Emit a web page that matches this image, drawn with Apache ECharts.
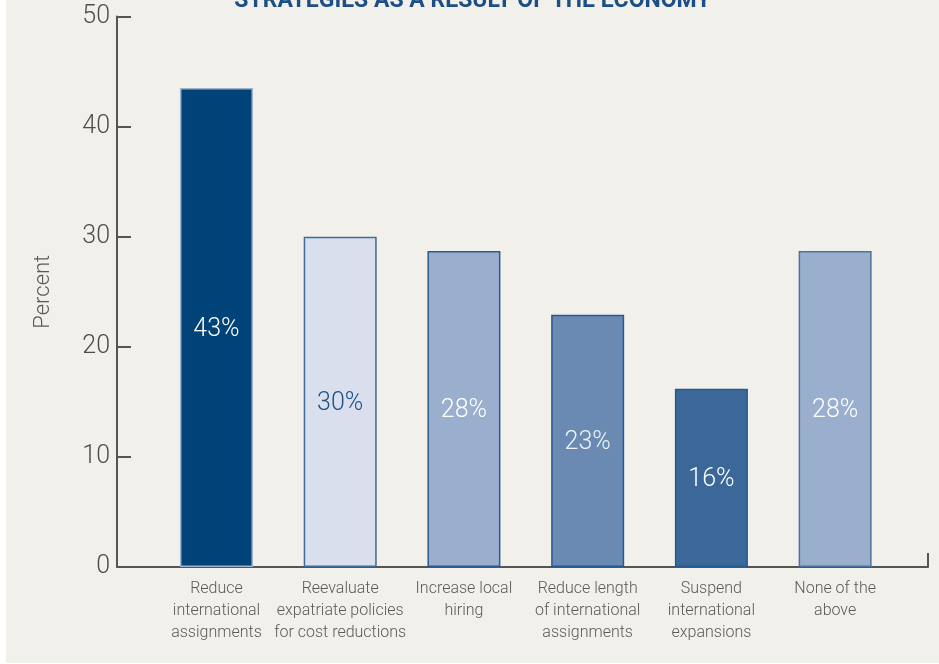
<!DOCTYPE html>
<html>
<head>
<meta charset="utf-8">
<script src="https://cdn.jsdelivr.net/npm/echarts@6/dist/echarts.min.js"></script>
<style>
html,body{margin:0;padding:0;background:#ffffff;}
#chart{position:absolute;left:6px;top:0;width:933px;height:663px;background:#f2f0ea;}
</style>
</head>
<body>
<div id="chart"></div>
<script>
const titleText = 'STRATEGIES AS A RESULT OF THE ECONOMY';
const categories = [
  'Reduce\ninternational\nassignments',
  'Reevaluate\nexpatriate policies\nfor cost reductions',
  'Increase local\nhiring',
  'Reduce length\nof international\nassignments',
  'Suspend\ninternational\nexpansions',
  'None of the\nabove'
];
const values = [43.5, 30.0, 28.7, 22.9, 16.2, 28.7];
const valueLabels = ['43%', '30%', '28%', '23%', '16%', '28%'];
const yTicks = [0, 10, 20, 30, 40, 50];
const yName = 'Percent';

const barColors = ['#004378', '#d9dfec', '#9aaecd', '#6a8ab3', '#3b6899', '#9aaecd'];
const borderColors = ['#9fb2c8', '#3e6c9b', '#2a5b8f', '#245a92', '#245a92', '#4a74a0'];
const labelColors = ['#ffffff', '#1f5189', '#ffffff', '#eef2f7', '#ffffff', '#ffffff'];

const chart = echarts.init(document.getElementById('chart'), null, {renderer: 'canvas'});
const numFont = 'Roboto';

const option = {
  backgroundColor: 'transparent',
  animation: false,
  graphic: [{
    type: 'text',
    left: 'center',
    top: -10,
    style: {
      text: titleText,
      fill: '#1b4f86',
      font: 'bold 23px Roboto, sans-serif'
    }
  }],
  grid: [
    {left: 111, right: 11, top: 16.5, bottom: 96},
    {left: 148.6, right: 42, top: 16.5, bottom: 96}
  ],
  xAxis: [
    {
      type: 'value', gridIndex: 0, min: 0, max: 1, interval: 1,
      axisLine: {show: true, lineStyle: {color: '#555555', width: 2}},
      axisTick: {show: true, inside: true, length: 14, lineStyle: {color: '#555555', width: 2}},
      axisLabel: {show: false},
      splitLine: {show: false}
    },
    {
      type: 'category', gridIndex: 1, data: categories,
      axisLine: {show: false},
      axisTick: {show: false},
      axisLabel: {
        interval: 0, margin: 11, color: '#5a5a5a', fontSize: 16, lineHeight: 22,
        fontFamily: numFont, fontWeight: 300, align: 'center'
      }
    }
  ],
  yAxis: [
    {
      type: 'value', gridIndex: 0, min: yTicks[0], max: yTicks[yTicks.length - 1], interval: 10,
      axisLine: {show: true, lineStyle: {color: '#555555', width: 2}},
      axisTick: {show: true, inside: true, length: 14, lineStyle: {color: '#555555', width: 2}},
      axisLabel: {color: '#4d4d4d', fontSize: 25, fontFamily: numFont, fontWeight: 300, margin: 7},
      splitLine: {show: false},
      name: yName, nameLocation: 'middle', nameGap: 63, nameRotate: 90,
      nameTextStyle: {color: '#5a5a5a', fontSize: 22, fontFamily: numFont, fontWeight: 300}
    },
    {
      type: 'value', gridIndex: 1, min: 0, max: 50, show: false
    }
  ],
  series: [{
    type: 'bar',
    xAxisIndex: 1, yAxisIndex: 1,
    barWidth: 73,
    data: values.map((v, i) => ({
      value: v,
      itemStyle: {color: barColors[i], borderColor: borderColors[i], borderWidth: 1.5},
      label: {color: labelColors[i]}
    })),
    label: {
      show: true, position: 'inside', offset: [0, 2],
      fontSize: 25, fontFamily: numFont, fontWeight: 300,
      formatter: p => valueLabels[p.dataIndex]
    }
  }]
};
chart.setOption(option);
</script>
</body>
</html>
